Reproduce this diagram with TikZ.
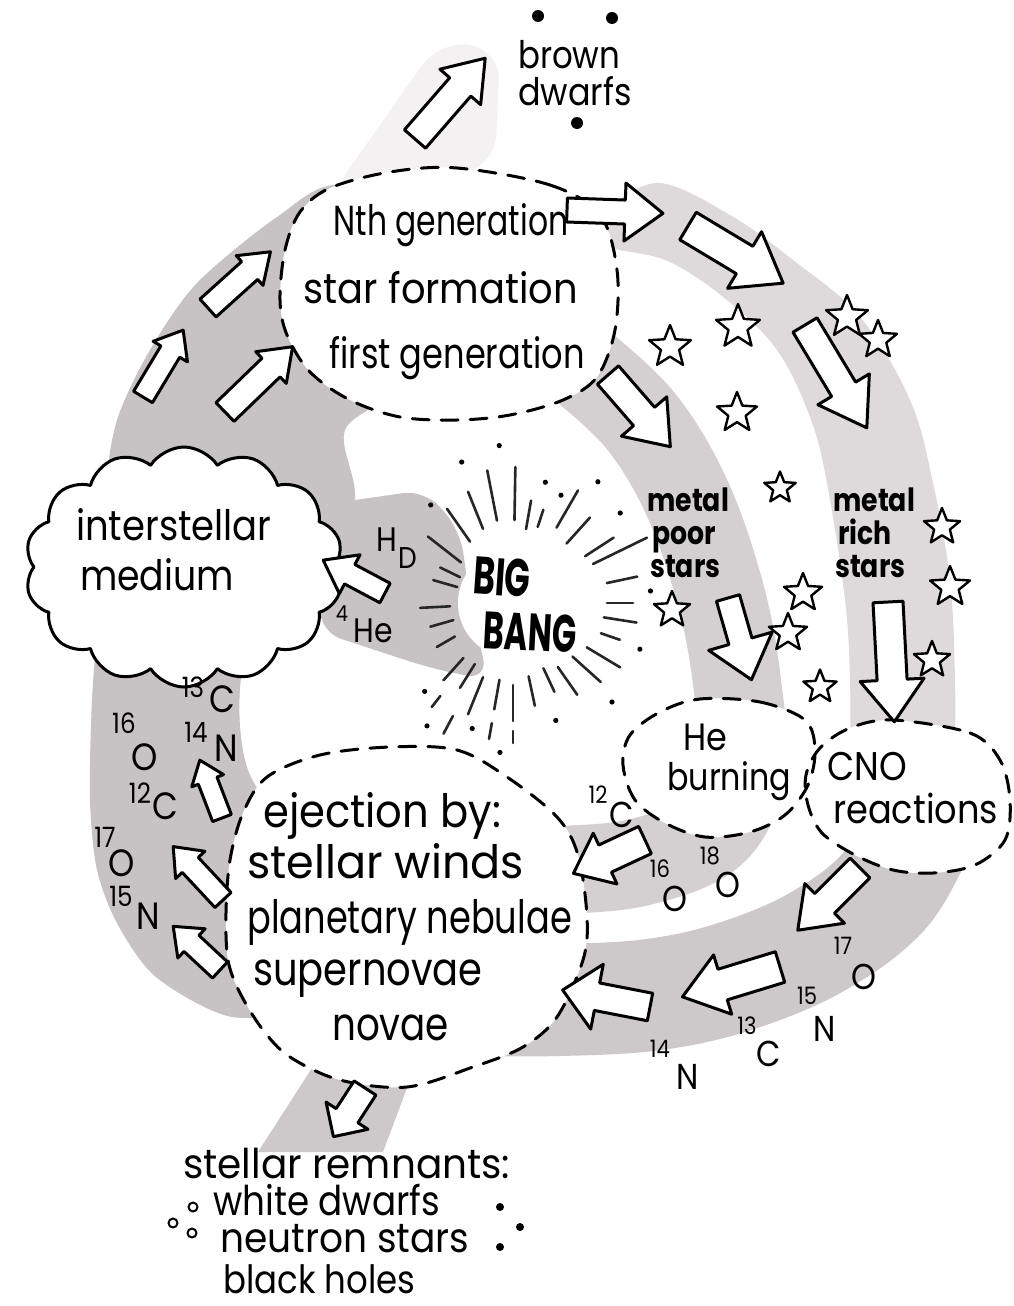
\documentclass[tikz,border=0pt]{standalone}
\usepackage{fontspec}
\setmainfont{Poppins}
\newfontfamily\hand{Poppins}[FakeStretch=0.88]
\newfontfamily\handn{Poppins}[FakeStretch=0.76]
\usetikzlibrary{shapes.geometric,shapes.symbols}
\newcommand{\fs}[1]{\fontsize{#1}{#1}\selectfont}
% horizontal squeeze or stretch of one text line
\newcommand{\hs}[2]{\scalebox{#1}[1]{#2}}
% hollow block arrow: tail x, tail y, direction (deg), length, shaft half width, head half width, head length
\newcommand{\blockarrow}[7]{%
  \draw[blockarrow,shift={(#1,#2)},rotate=#3]
    (0,#5) -- ({#4-#7},#5) -- ({#4-#7},#6) -- (#4,0) -- ({#4-#7},-#6) -- ({#4-#7},-#5) -- (0,-#5) -- cycle;}
\definecolor{gA}{RGB}{199,194,196}
\definecolor{gB}{RGB}{222,218,219}
\definecolor{gC}{RGB}{212,207,208}
\definecolor{gD}{RGB}{205,200,201}
\definecolor{gF}{RGB}{243,241,241}
\tikzset{
  blockarrow/.style={draw=black, fill=white, line width=3pt, line join=round},
  oval/.style={draw=black, line width=3pt, dash pattern=on 17pt off 12pt, line cap=round},
  ovalfill/.style={fill=white},
  starmark/.style={star, star points=5, star point ratio=2.3, draw=black, fill=white,
                   line width=2.4pt, inner sep=0pt, minimum size=#1},
  ray/.style={line width=2.6pt, line cap=round, black!85},
  txt/.style={inner sep=0pt, text=black},
  sfline/.style={txt, font=\hand\fs{42}, anchor=base},
  ej/.style={txt, font=\hand\fs{46}, anchor=base west},
  rem/.style={txt, font=\hand\fs{41}, anchor=base west},
  num/.style={txt, font=\hand\fs{28}},
  elem/.style={txt, font=\hand\fs{38}},
  numr/.style={txt, font=\hand\fs{24}},
  elemr/.style={txt, font=\hand\fs{36}},
  metal/.style={txt, font=\handn\bfseries\fs{32}, anchor=base west},
}
\begin{document}
\begin{tikzpicture}[x=1pt,y=-1pt,line join=round]
\useasboundingbox (0,0) rectangle (1014,1306);
\fill[white] (0,0) rectangle (1014,1306);

% ---------- grey flow bands ----------
\fill[gF, rounded corners=30pt] (330,196) -- (440,40) -- (500,50) -- (495,165) -- (430,182) -- cycle;
\fill[gA] plot[smooth cycle, tension=0.5] coordinates {(232,1017) (157,978) (118,925) (97,870) (90,800) (92,700) (100,590) (106,483) (118,417) (150,350) (197,283) (277,217) (340,185) (450,230) (400,380) (345,430) (355,500) (330,600) (300,640) (245,660) (248,770) (330,900) (300,1000)};
\fill[gA, rounded corners=22pt] (320,505) -- (425,490) -- (460,530) -- (470,600) -- (488,680) -- (430,668) -- (320,632) -- cycle;
\fill[gB] plot[smooth, tension=0.6] coordinates {(612,205) (660,183) (730,215) (793,260) (860,317) (910,400) (933,483) (950,580) (955,680) (955,760)}
  -- plot[smooth, tension=0.6] coordinates {(850,760) (850,680) (845,600) (827,483) (810,417) (777,350) (727,300) (670,262) (620,250) (600,245)} -- cycle;
\draw[gC, line width=88pt] plot[smooth, tension=0.6] coordinates {(575,360) (640,420) (688,500) (722,600) (738,690) (742,770) (712,832) (640,862) (560,870) (490,870)};
\draw[gD, line width=112pt] plot[smooth, tension=0.6] coordinates {(925,815) (885,890) (815,943) (730,978) (650,995) (560,1000) (470,1000)};
\fill[gD] (330,1040) -- (425,1040) -- (383,1152) -- (258,1152) -- cycle;

% ---------- white interiors ----------
\fill[white] (513,603) circle (55);
\path[ovalfill] plot[smooth cycle, tension=0.55] coordinates {(457,168) (550,185) (600,215) (617,270) (615,330) (597,377) (563,400) (510,415) (457,420) (400,417) (350,400) (310,372) (287,335) (280,300) (285,250) (300,212) (330,188) (390,172)};
\path[ovalfill] plot[smooth cycle, tension=0.55] coordinates {(390,747) (457,750) (507,777) (557,817) (578,855) (587,917) (583,960) (557,1017) (523,1047) (473,1067) (407,1087) (340,1080) (290,1057) (263,1030) (240,993) (228,960) (226,913) (230,860) (243,813) (267,777) (320,755)};
\path[ovalfill] plot[smooth cycle, tension=0.55] coordinates {(700,699) (760,702) (805,720) (815,750) (808,785) (785,815) (750,832) (705,837) (665,823) (635,800) (623,765) (630,735) (660,712)};
\path[ovalfill] plot[smooth cycle, tension=0.55] coordinates {(893,720) (970,733) (1000,760) (1010,800) (1005,840) (975,865) (933,873) (893,870) (855,855) (822,833) (808,805) (806,775) (820,748) (850,728)};

% ---------- dashed outlines ----------
\draw[oval] plot[smooth cycle, tension=0.55] coordinates {(457,168) (550,185) (600,215) (617,270) (615,330) (597,377) (563,400) (510,415) (457,420) (400,417) (350,400) (310,372) (287,335) (280,300) (285,250) (300,212) (330,188) (390,172)};
\draw[oval] plot[smooth cycle, tension=0.55] coordinates {(390,747) (457,750) (507,777) (557,817) (578,855) (587,917) (583,960) (557,1017) (523,1047) (473,1067) (407,1087) (340,1080) (290,1057) (263,1030) (240,993) (228,960) (226,913) (230,860) (243,813) (267,777) (320,755)};
\draw[oval] plot[smooth cycle, tension=0.55] coordinates {(700,699) (760,702) (805,720) (815,750) (808,785) (785,815) (750,832) (705,837) (665,823) (635,800) (623,765) (630,735) (660,712)};
\draw[oval] plot[smooth cycle, tension=0.55] coordinates {(893,720) (970,733) (1000,760) (1010,800) (1005,840) (975,865) (933,873) (893,870) (855,855) (822,833) (808,805) (806,775) (820,748) (850,728)};

% ---------- interstellar cloud ----------
\node[cloud, cloud puffs=14, cloud puff arc=115, cloud ignores aspect, minimum width=318pt,
      minimum height=240pt, draw=black, fill=white, line width=3pt, inner sep=0pt] (ism) at (184,567) {};

% ---------- big bang rays ----------
\coordinate (bb) at (513,603);
\foreach \a/\ri/\ro in {-101/84/135, -89/83/136, -80/75/104, -72/80/98, -60/87/130, -48/80/115,
    -33/86/120, -26/89/149, -12/96/127, 0/94/120, 9/92/125, 19/93/113, 31/86/125, 42/80/118,
    55/78/112, 65/72/98, 78/75/105, 90/82/118, 100/78/108, 112/80/120, 122/72/100, 132/74/104,
    150/67/88, 164/62/86, 177/63/93, -164/58/83, -154/59/81, -142/66/108, -125/75/115, -112/80/120}
  \draw[ray, shift={(bb)}] (\a:\ri) -- (\a:\ro);
\foreach \a/\ri/\ro in {118/128/148, 100/122/138, 128/118/132, 90/128/140}
  \draw[ray, shift={(bb)}] (\a:\ri) -- (\a:\ro);
\foreach \a/\r in {-110/150, -95/158, -75/125, -55/148, -40/140, -66/118, 45/140, 70/125, 95/150,
    108/132, 125/150, 135/125, -130/128, 20/135, -5/138}
  \fill[black, shift={(bb)}] (\a:\r) circle (2.6);

% ---------- block arrows ----------
\blockarrow{415}{139}{49}{107}{14}{27}{38}
\blockarrow{567}{210}{-2}{96}{12}{29}{38}
\blockarrow{688}{226}{-31}{111}{16}{33}{45}
\blockarrow{805}{325}{-59}{120}{14}{30}{45}
\blockarrow{608}{375}{-49}{95}{14}{30}{40}
\blockarrow{728}{598}{-74}{85}{12}{33}{40}
\blockarrow{888}{602}{-87}{120}{15}{32}{42}
\blockarrow{385}{593}{152}{70}{11}{22}{30}
\blockarrow{208}{308}{42}{84}{12}{20}{28}
\blockarrow{143}{397}{59}{78}{11}{20}{25}
\blockarrow{225}{412}{44}{94}{13}{22}{30}
\blockarrow{222}{818}{111}{62}{10}{17}{22}
\blockarrow{223}{900}{133}{73}{11}{20}{25}
\blockarrow{220}{970}{137}{64}{11}{20}{25}
\blockarrow{645}{840}{-155}{79}{15}{28}{35}
\blockarrow{860}{868}{-135}{88}{14}{28}{38}
\blockarrow{780}{967}{-163}{102}{16}{31}{42}
\blockarrow{650}{1007}{169}{89}{14}{33}{35}
\blockarrow{365}{1088}{-123}{58}{13}{25}{25}

% ---------- stars ----------
\foreach \x/\y/\s [count=\i] in {670/347/44, 738/327/46, 737/413/42, 847/317/44, 878/340/40,
    780/488/33, 942/527/38, 950/587/42, 803/593/40, 788/633/40, 672/610/38, 932/660/38, 820/687/35}
  \node[starmark=\s pt] (star\i) at (\x,\y) {};

% ---------- texts ----------
\node[sfline] (nth) at (451,235) {\hs{0.85}{Nth generation}};
\node[sfline] (sform) at (441,303) {\hs{1.04}{star formation}};
\node[sfline] (firstgen) at (457,368) {\hs{0.91}{first generation}};

\node[txt, font=\hand\fs{42}, anchor=base west] (inter) at (76,540) {interstellar};
\node[txt, font=\hand\fs{42}, anchor=base west] (medium) at (80,590) {\hs{0.98}{medium}};

\node[ej] (ej1) at (263,827) {\hs{1.03}{ejection by:}};
\node[ej] (ej2) at (247,878) {\hs{1.10}{stellar winds}};
\node[ej] (ej3) at (247,933) {\hs{0.87}{planetary nebulae}};
\node[ej] (ej4) at (253,985) {\hs{0.95}{supernovae}};
\node[ej] (ej5) at (332,1040) {\hs{0.92}{novae}};

\node[txt, font=\hand\fs{38}, anchor=base west] (he) at (683,750) {He};
\node[txt, font=\hand\fs{38}, anchor=base west] (burn) at (667,790) {\hs{0.95}{burning}};
\node[txt, font=\hand\fs{40}, anchor=base west] (cno) at (827,780) {CNO};
\node[txt, font=\hand\fs{40}, anchor=base west] (reac) at (833,823) {reactions};

\node[metal] (mp1) at (647,511) {\hs{1.1}{metal}};
\node[metal] (mp2) at (652,544) {\hs{1.1}{poor}};
\node[metal] (mp3) at (650,577) {\hs{1.1}{stars}};
\node[metal] (mr1) at (833,511) {\hs{1.1}{metal}};
\node[metal] (mr2) at (838,544) {\hs{1.1}{rich}};
\node[metal] (mr3) at (835,577) {\hs{1.1}{stars}};

\node[txt, font=\hand\fs{38}, anchor=base west] (brown) at (518,68) {\hs{0.97}{brown}};
\node[txt, font=\hand\fs{38}, anchor=base west] (dwarfs) at (518,105) {dwarfs};
\fill (538,16) circle (6) (612,18) circle (6) (577,123) circle (6);

\node[rem] (rem1) at (183,1178) {\hs{1.08}{stellar remnants:}};
\node[rem] (rem2) at (213,1215) {\hs{0.99}{white dwarfs}};
\node[rem] (rem3) at (220,1252) {\hs{1.04}{neutron stars}};
\node[rem, font=\hand\fs{39}] (rem4) at (223,1293) {\hs{0.99}{black holes}};
\draw[line width=2pt] (193,1207) circle (4.5) (173,1223) circle (4.5) (192,1233) circle (4.5);
\fill (500,1207) circle (4) (520,1227) circle (4) (500,1247) circle (4);

\node[txt, font=\handn\bfseries\fs{44}, rotate=-4] (big) at (502,577) {\scalebox{1}[1.2]{BIG}};
\node[txt, font=\handn\bfseries\fs{42}, rotate=-3] (bang) at (530,632) {\scalebox{1}[1.25]{BANG}};

\node[txt, font=\hand\fs{34}] (hh) at (387,540) {H};
\node[txt, font=\hand\fs{30}] (hd) at (408,558) {D};
\node[txt, font=\hand\fs{22}] (h4) at (342,614) {4};
\node[txt, font=\hand\fs{34}] (hhe) at (373,631) {He};

% isotopes along the left band
\node[num] at (193,687) {13}; \node[elem] at (222,699) {C};
\node[num] at (196,732) {14}; \node[elem] at (226,748) {N};
\node[num] at (124,723) {16}; \node[elem] at (145,757) {O};
\node[num] at (140,793) {12}; \node[elem] at (165,806) {C};
\node[num] at (105,837) {17}; \node[elem] at (122,863) {O};
\node[num] at (121,896) {15}; \node[elem] at (148,916) {N};
% isotopes along the lower bands
\node[numr] at (598,795) {12}; \node[elemr] at (622,815) {C};
\node[numr] at (660,869) {16}; \node[elemr] at (675,899) {O};
\node[numr] at (710,856) {18}; \node[elemr] at (728,885) {O};
\node[numr] at (843,946) {17}; \node[elemr] at (864,977) {O};
\node[numr] at (807,996) {15}; \node[elemr] at (825,1029) {N};
\node[numr] at (747,1026) {13}; \node[elemr] at (769,1054) {C};
\node[numr] at (660,1049) {14}; \node[elemr] at (688,1077) {N};
\end{tikzpicture}
\end{document}
